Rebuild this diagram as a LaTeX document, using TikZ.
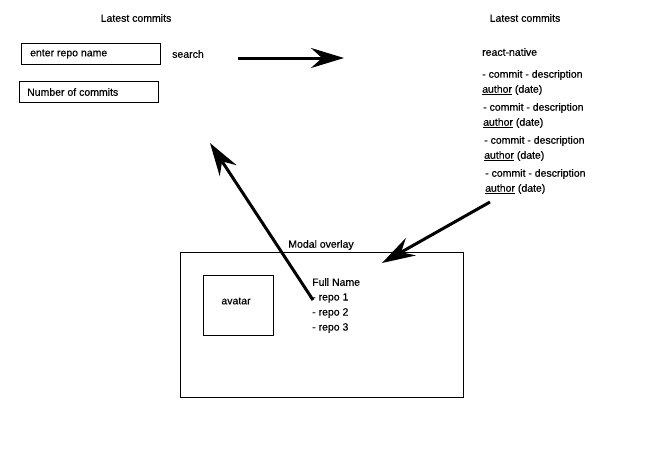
\documentclass[tikz,border=0pt]{standalone}
\usepackage{fontspec}
\setmainfont{Liberation Sans}
\newfontfamily\sketchfont{Liberation Sans}[FakeBold=0.5]
\usetikzlibrary{arrows.meta,positioning}
\tikzset{
  txt/.style={inner sep=0pt,font=\sketchfont\fontsize{10.5}{12}\selectfont},
  field/.style={draw,line width=1pt,minimum width=139pt,minimum height=21pt,inner sep=0pt},
  bigarrow/.style={line width=3pt,-{Stealth[length=33pt,width=20pt,inset=11pt]}}
}
\newcommand{\authorline}{\underline{author} (date)}
\begin{document}
\begin{tikzpicture}[x=1pt,y=-1pt]
\useasboundingbox (0,0) rectangle (669,461);
%----left screen-------------------------------
\node[txt] (titleL) at (136,18) {Latest commits};
\node[field] (repo) at (90.5,53.5) {};
\node[txt,anchor=west] (repotxt) at (30,54) {enter repo name};
\node[txt,anchor=west] (search) at (172,54) {search};
\node[field] (number) at (88.5,91.5) {};
\node[txt,anchor=west] (numtxt) at (27,92) {Number of commits};
%----right screen------------------------------
\node[txt] (titleR) at (525,18) {Latest commits};
\node[txt,anchor=west] (rn) at (482,52) {react-native};
\foreach \i/\dx in {0/0,1/1,2/2,3/3}{
  \node[txt,anchor=west] (commit\i) at (482+\dx,75+33*\i) {- commit - description};
  \node[txt,anchor=west] (author\i) at (482+\dx,90+33*\i) {\authorline};
}
%----modal-------------------------------------
\node[txt] (modaltitle) at (321,245) {Modal overlay};
\node[draw,line width=1pt,minimum width=283pt,minimum height=145pt,inner sep=0pt] (modal) at (321.5,324.5) {};
\node[draw,line width=1pt,minimum width=70pt,minimum height=60pt,inner sep=0pt] (avatar) at (238,305) {};
\node[txt] (avatartxt) at (236,301) {avatar};
\node[txt,anchor=west] (fullname) at (312,282) {Full Name};
\node[txt,anchor=west] (repo1) at (312,298) {- repo 1};
\node[txt,anchor=west] (repo2) at (312,313) {- repo 2};
\node[txt,anchor=west] (repo3) at (312,328) {- repo 3};
%----arrows------------------------------------
\coordinate (a1s) at (238,58);
\coordinate (a1e) at (344,58);
\coordinate (a2s) at (490,202);
\coordinate (a2e) at (382,263);
\coordinate (a3s) at (313,300);
\coordinate (a3e) at (210,143);
\draw[bigarrow] (a1s) -- (a1e);
\draw[bigarrow] (a2s) -- (a2e);
\draw[bigarrow] (a3s) -- (a3e);
\end{tikzpicture}
\end{document}
